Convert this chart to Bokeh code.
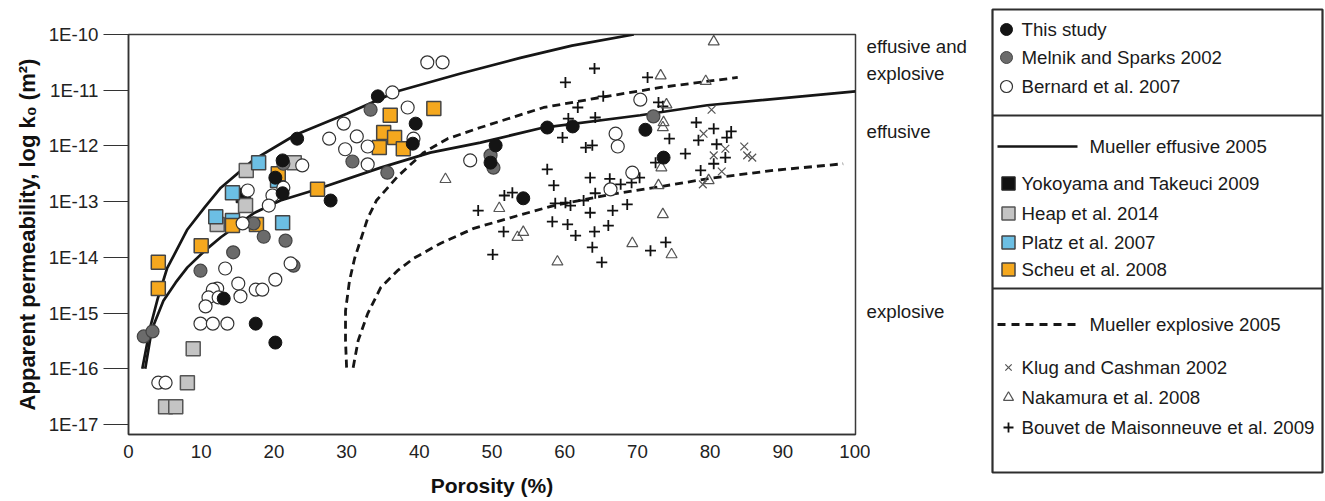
import numpy as np
from bokeh.plotting import figure
from bokeh.layouts import row
from bokeh.models import FixedTicker, CustomJSTickFormatter, Range1d, Title
from bokeh.embed import file_html
from bokeh.resources import INLINE
from bokeh.core.properties import value

# ---------------- data (porosity %, log10 k0 [m2]) ----------------
eff_upper_phi = [1.9, 3.0, 4.0, 5.3, 8.1, 10.5, 12.7, 17.2, 23.0, 30.1, 37.0, 45.7, 53.9, 61.0, 69.5]
eff_upper_logk = [-16.0, -15.25, -14.75, -14.2, -13.5, -13.1, -12.75, -12.25, -11.8, -11.42, -11.02, -10.70, -10.42, -10.2, -10.0]

eff_lower_phi = [2.3, 3.2, 4.8, 6.5, 8.1, 10.5, 12.7, 17.2, 20.9, 25.4, 34.7, 41.5, 48.4, 57.1, 70.4, 79.6, 100.0]
eff_lower_logk = [-16.0, -15.3, -14.78, -14.45, -14.18, -13.88, -13.64, -13.21, -12.98, -12.80, -12.39, -12.12, -11.94, -11.67, -11.45, -11.27, -11.02]

exp_upper_phi = [30.0, 29.85, 29.85, 30.4, 31.1, 31.9, 32.9, 34.1, 37.0, 40.6, 43.9, 48.4, 57.1, 64.9, 73.2, 83.8]
exp_upper_logk = [-15.98, -15.49, -14.96, -14.42, -14.02, -13.70, -13.30, -12.98, -12.55, -12.12, -11.87, -11.67, -11.31, -11.13, -10.95, -10.77]

exp_lower_phi = [30.9, 31.6, 32.9, 34.7, 37.0, 39.2, 42.9, 47.5, 52.5, 58.5, 66.3, 73.2, 79.6, 88.7, 98.3]
exp_lower_logk = [-15.98, -15.49, -15.01, -14.54, -14.24, -14.02, -13.75, -13.48, -13.29, -13.07, -12.87, -12.73, -12.59, -12.44, -12.32]

this_phi = [23.2, 21.2, 20.2, 21.2, 13.1, 17.5, 20.2, 34.3, 39.5, 39.1, 27.8, 57.6, 61.1, 50.5, 49.8, 54.3, 71.1, 73.6]
this_logk = [-11.87, -12.26, -12.57, -12.85, -14.74, -15.19, -15.53, -11.11, -11.60, -11.96, -12.98, -11.67, -11.65, -11.99, -12.30, -12.94, -11.71, -12.21]

melnik_phi = [21.3, 2.1, 3.3, 9.9, 14.4, 18.6, 21.6, 22.7, 17.2, 33.3, 30.8, 35.6, 49.8, 50.2, 72.2]
melnik_logk = [-12.32, -15.42, -15.33, -14.24, -13.91, -13.63, -13.70, -14.15, -13.39, -11.35, -12.28, -12.48, -12.17, -12.39, -11.47]

bernard_phi = [23.9, 16.4, 21.3, 19.8, 19.3, 15.7, 13.3, 22.3, 20.2, 15.1, 17.5, 18.4, 12.2, 11.6, 11.0, 12.4, 15.4, 10.6,
               9.9, 11.6, 13.6, 4.1, 5.1, 41.1, 43.2, 36.3, 38.4, 29.6, 27.6, 31.4, 29.8, 32.9, 32.9, 39.2, 47.0, 70.4,
               67.0, 67.3, 69.3, 66.3]
bernard_logk = [-12.35, -12.80, -12.75, -12.89, -13.07, -13.39, -14.20, -14.11, -14.40, -14.47, -14.58, -14.58, -14.56,
                -14.58, -14.72, -14.72, -14.70, -14.88, -15.19, -15.19, -15.19, -16.25, -16.25, -10.50, -10.50, -11.04,
                -11.31, -11.60, -11.87, -11.83, -12.06, -12.01, -12.33, -11.87, -12.26, -11.17, -11.78, -12.01, -12.48,
                -12.78]

yoko_phi = [15.8]
yoko_logk = [-12.89]

heap_phi = [16.2, 22.8, 16.1, 12.2, 8.9, 8.1, 5.1, 6.5]
heap_logk = [-12.44, -12.30, -13.07, -13.41, -15.64, -16.25, -16.68, -16.68]

platz_phi = [17.9, 14.3, 20.5, 12.0, 21.2, 14.3]
platz_logk = [-12.30, -12.84, -12.62, -13.27, -13.38, -13.34]

scheu_phi = [20.6, 26.0, 4.1, 4.1, 10.0, 14.3, 17.6, 36.0, 42.0, 35.1, 36.6, 34.5, 37.8]
scheu_logk = [-12.50, -12.78, -14.09, -14.56, -13.79, -13.43, -13.41, -11.45, -11.33, -11.76, -11.85, -12.03, -12.05]

nakamura_phi = [43.6, 51.0, 54.3, 53.5, 59.0, 69.3, 80.5, 73.2, 79.4, 74.0, 73.6, 73.5, 73.3, 72.9, 79.8, 73.5, 74.7]
nakamura_logk = [-12.60, -13.12, -13.55, -13.64, -14.08, -13.75, -10.13, -10.74, -10.84, -11.26, -11.58, -11.67,
                 -12.39, -12.71, -12.62, -13.23, -13.95]

klug_phi = [80.2, 79.1, 82.1, 80.5, 84.7, 85.1, 85.8, 81.6, 79.0]
klug_logk = [-11.35, -11.78, -12.05, -12.17, -12.01, -12.17, -12.21, -12.46, -12.69]

bouvet_phi = [48.1, 64.1, 60.1, 71.4, 72.9, 65.3, 61.8, 60.5, 64.2, 59.7, 62.9, 63.8, 72.5, 57.6, 63.5, 66.2, 67.7,
              69.2, 70.3, 58.5, 51.7, 52.8, 64.2, 62.6, 58.7, 60.1, 60.8, 63.5, 66.6, 68.6, 51.6, 50.1, 58.3, 60.4,
              61.5, 64.1, 66.0, 63.8, 65.1, 71.8, 73.5, 78.1, 80.5, 74.4, 78.4, 82.3, 82.9, 80.9, 82.1, 80.5, 76.6,
              78.7, 73.9]
bouvet_logk = [-13.16, -10.61, -10.86, -10.77, -11.22, -11.11, -11.31, -11.51, -11.49, -11.85, -12.03, -11.99, -12.30,
               -12.42, -12.57, -12.59, -12.69, -12.66, -12.57, -12.71, -12.89, -12.84, -12.85, -12.98, -13.03, -13.02,
               -13.07, -13.20, -13.16, -13.05, -13.54, -13.95, -13.36, -13.41, -13.61, -13.54, -13.43, -13.82, -14.09,
               -13.88, -11.29, -11.58, -11.69, -11.87, -11.90, -11.85, -11.74, -11.97, -12.21, -12.32, -12.14, -12.44,
               -13.73]

x_ticks = [0, 10, 20, 30, 40, 50, 60, 70, 80, 90, 100]
y_tick_exponents = [-17, -16, -15, -14, -13, -12, -11, -10]

legend_points = ["This study", "Melnik and Sparks 2002", "Bernard et al. 2007"]
legend_effusive = ["Mueller effusive 2005", "Yokoyama and Takeuci  2009", "Heap et al. 2014",
                   "Platz et al. 2007", "Scheu et al. 2008"]
legend_explosive = ["Mueller explosive 2005", "Klug and Cashman 2002", "Nakamura et al. 2008",
                    "Bouvet de Maisonneuve et al. 2009"]
regime_labels = ["effusive and", "explosive", "effusive", "explosive"]

FONT = "Liberation Sans"
TXT_SIZE = "18.7px"


def k(vals):
    return 10.0 ** np.asarray(vals, dtype=float)


# ---------------- main plot ----------------
p = figure(width=870, height=501, x_range=Range1d(0, 100), y_range=Range1d(10 ** -17.18, 1e-10),
           y_axis_type="log", output_backend="svg", toolbar_location=None, title=None,
           min_border_left=128, min_border_right=15, min_border_top=34, min_border_bottom=67)
p.frame_align = False
p.grid.visible = False
p.outline_line_color = "#3a3a3a"
p.outline_line_width = 1.5
p.background_fill_color = "white"
p.border_fill_color = "white"

p.xaxis.ticker = FixedTicker(ticks=x_ticks)
p.yaxis.ticker = FixedTicker(ticks=[10.0 ** e for e in y_tick_exponents], minor_ticks=[])
p.yaxis.formatter = CustomJSTickFormatter(code="return '1E' + Math.round(Math.log10(tick));")
for ax in (p.xaxis[0], p.yaxis[0]):
    ax.axis_line_color = "#333333"
    ax.axis_line_width = 1.5
    ax.major_tick_line_color = "#333333"
    ax.major_tick_line_width = 1.2
    ax.minor_tick_line_color = None
    ax.major_label_text_font = FONT
    ax.major_label_text_font_size = TXT_SIZE
    ax.major_label_text_color = "#222222"
    ax.axis_label_text_font = FONT
    ax.axis_label_text_font_style = "bold"
    ax.axis_label_text_font_size = "21px"
    ax.axis_label_text_color = "#111111"
p.yaxis.major_tick_out = 25
p.yaxis.major_tick_in = 0
p.yaxis.major_label_standoff = 5
p.xaxis.major_tick_out = 0
p.xaxis.major_tick_in = 0
p.xaxis.major_label_standoff = 10
p.xaxis.axis_label = "Porosity (%)"
p.xaxis.axis_label_standoff = 13

ylab = Title(text="Apparent permeability, log k\u2080 (m\u00b2)", align="center", offset=27,
             text_font=FONT, text_font_style="bold", text_font_size="22px", text_color="#111111",
             standoff=12)
p.add_layout(ylab, "left")

# curves
p.line(eff_upper_phi, k(eff_upper_logk), line_color="#161616", line_width=2.7)
p.line(eff_lower_phi, k(eff_lower_logk), line_color="#161616", line_width=2.7)
p.line(exp_upper_phi, k(exp_upper_logk), line_color="#161616", line_width=2.8, line_dash="8 5")
p.line(exp_lower_phi, k(exp_lower_logk), line_color="#161616", line_width=2.8, line_dash="8 5")

# scatter series
p.scatter(bouvet_phi, k(bouvet_logk), marker="cross", size=11, line_color="#111111", line_width=1.8)
p.scatter(klug_phi, k(klug_logk), marker="x", size=11, line_color="#555555", line_width=1.2)
p.scatter(nakamura_phi, k(nakamura_logk), marker="triangle", size=11, fill_color="white", fill_alpha=0.0,
          line_color="#555555", line_width=1.2)
p.scatter(yoko_phi, k(yoko_logk), marker="square", size=14, fill_color="#111111", line_color="#222222", line_width=1.5)
p.scatter(heap_phi, k(heap_logk), marker="square", size=14, fill_color="#c4c4c4", line_color="#555555", line_width=1.5)
p.scatter(platz_phi, k(platz_logk), marker="square", size=14, fill_color="#6cbfe4", line_color="#444444", line_width=1.5)
p.scatter(scheu_phi, k(scheu_logk), marker="square", size=14, fill_color="#f5a81e", line_color="#444444", line_width=1.5)
p.scatter(melnik_phi, k(melnik_logk), marker="circle", size=13, fill_color="#6b6b6b", line_color="#444444", line_width=1.2)
p.scatter(bernard_phi, k(bernard_logk), marker="circle", size=13, fill_color="white", line_color="#333333", line_width=1.2)
p.scatter(this_phi, k(this_logk), marker="circle", size=13, fill_color="#141414", line_color="#141414", line_width=1.0)

# ---------------- side panel: regime labels + legend (pixel coordinates) ----------------
q = figure(width=467, height=501, x_range=Range1d(858, 1325), y_range=Range1d(501, 0),
           output_backend="svg", toolbar_location=None, title=None,
           x_axis_location=None, y_axis_location=None,
           min_border_left=0, min_border_right=0, min_border_top=0, min_border_bottom=0)
q.frame_align = False
q.margin = (0, 0, 0, -12)
q.grid.visible = False
q.outline_line_color = None
q.background_fill_alpha = 0.0
q.border_fill_alpha = 0.0

txt = dict(text_font=value(FONT), text_font_size=value(TXT_SIZE), text_color="#1a1a1a",
           text_baseline="middle", text_align="left")

q.text(x=[866, 866, 866, 866], y=[46, 73, 131, 311], text=regime_labels, **txt)

# legend frame
q.quad(left=[992], right=[1322], top=[9], bottom=[472], fill_color=None, line_color="#2e2e2e", line_width=2.2)
q.segment(x0=[992, 992], x1=[1322, 1322], y0=[115, 288], y1=[115, 288], line_color="#2e2e2e", line_width=2.2)

# section 1
q.scatter([1006], [29], marker="circle", size=12, fill_color="#141414", line_color="#141414")
q.scatter([1006], [57], marker="circle", size=12, fill_color="#6b6b6b", line_color="#444444")
q.scatter([1006], [86], marker="circle", size=12, fill_color="white", line_color="#333333", line_width=1.2)
q.text(x=[1021, 1021, 1021], y=[29, 57, 86], text=legend_points, **txt)

# section 2
q.segment(x0=[997], x1=[1077], y0=[146], y1=[146], line_color="#161616", line_width=2.7)
q.scatter([1008, 1008, 1008, 1008], [183, 213, 242, 269], marker="square", size=13,
          fill_color=["#111111", "#c4c4c4", "#6cbfe4", "#f5a81e"],
          line_color=["#222222", "#555555", "#444444", "#444444"], line_width=1.5)
q.text(x=[1089, 1021, 1021, 1021, 1021], y=[146, 183, 213, 242, 269], text=legend_effusive, **txt)

# section 3
q.segment(x0=[997], x1=[1075], y0=[324], y1=[324], line_color="#161616", line_width=2.8, line_dash="8 6")
q.scatter([1008], [367], marker="x", size=9, line_color="#555555", line_width=1.2)
q.scatter([1008], [397], marker="triangle", size=10, fill_color="white", line_color="#555555", line_width=1.2)
q.scatter([1008], [427], marker="cross", size=10, line_color="#111111", line_width=1.8)
q.text(x=[1089, 1021, 1021, 1021], y=[324, 367, 397, 427], text=legend_explosive, **txt)

layout = row(p, q)
open("out.html", "w").write(file_html(layout, INLINE))
